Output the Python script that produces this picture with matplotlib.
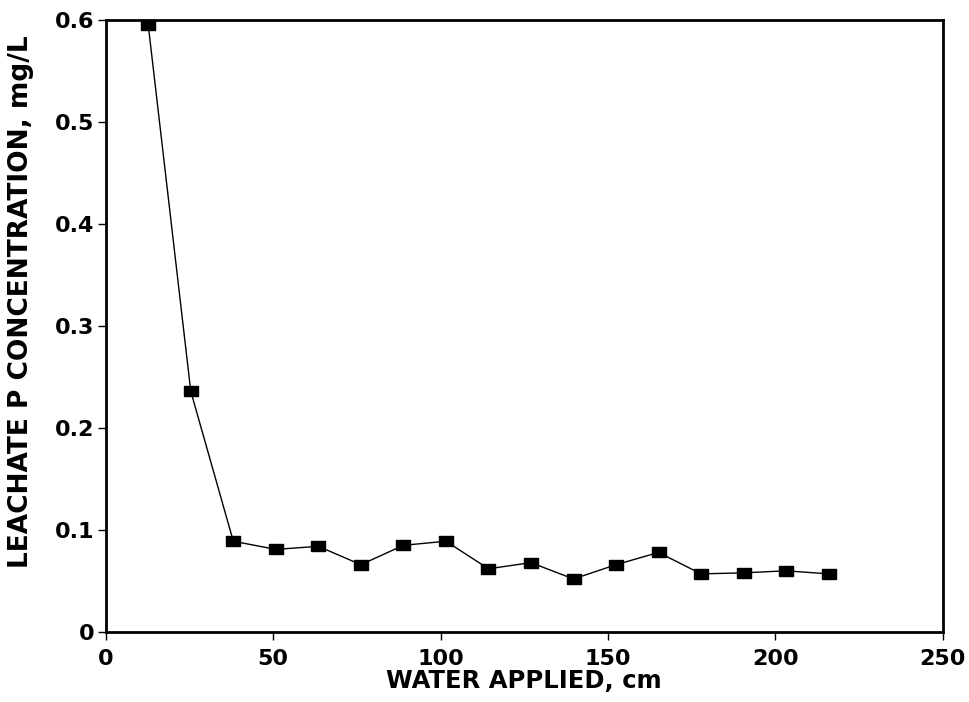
import matplotlib
matplotlib.use("Agg")
import matplotlib.pyplot as plt

plt.rcParams['font.family'] = ['DejaVu Sans']
plt.rcParams['font.weight'] = 'bold'

# water applied (cm) and leachate P concentration (mg/L)
water_cm = [12.7, 25.4, 38.1, 50.8, 63.5, 76.2, 88.9, 101.6, 114.3, 127.0,
            139.7, 152.4, 165.1, 177.8, 190.5, 203.2, 215.9]
conc_mg_l = [0.595, 0.236, 0.089, 0.081, 0.084, 0.066, 0.085, 0.089, 0.062, 0.068,
             0.052, 0.066, 0.078, 0.057, 0.058, 0.060, 0.057]

x_ticks = [0, 50, 100, 150, 200, 250]
y_ticks = [0, 0.1, 0.2, 0.3, 0.4, 0.5, 0.6]
y_tick_labels = ['0', '0.1', '0.2', '0.3', '0.4', '0.5', '0.6']

# slightly flattened square marker, like the original
rect_marker = [(-1, -0.78), (1, -0.78), (1, 0.78), (-1, 0.78), (-1, -0.78)]

fig = plt.figure(figsize=(9.7, 7.02), dpi=100)
ax = fig.add_axes([0.109, 0.0997, 0.863, 0.8718])

ax.plot(water_cm, conc_mg_l, color='black', linewidth=1.0,
        marker=rect_marker, markersize=10, markerfacecolor='black', markeredgecolor='black')

ax.set_xlim(0, 250)
ax.set_ylim(0, 0.6)
ax.set_xticks(x_ticks)
ax.set_yticks(y_ticks)
ax.set_yticklabels(y_tick_labels)
ax.tick_params(direction='out', length=6, width=1, labelsize=16)
ax.tick_params(axis='x', pad=6)
ax.tick_params(axis='y', pad=2)

for side in ax.spines.values():
    side.set_linewidth(2)

ax.set_xlabel('WATER APPLIED, cm', fontsize=17.5, fontweight='bold', labelpad=0)
ax.set_ylabel('LEACHATE P CONCENTRATION, mg/L', fontsize=19, fontweight='bold')
ax.yaxis.set_label_coords(-0.086, 0.539)

fig.savefig('out.png', dpi=100)
